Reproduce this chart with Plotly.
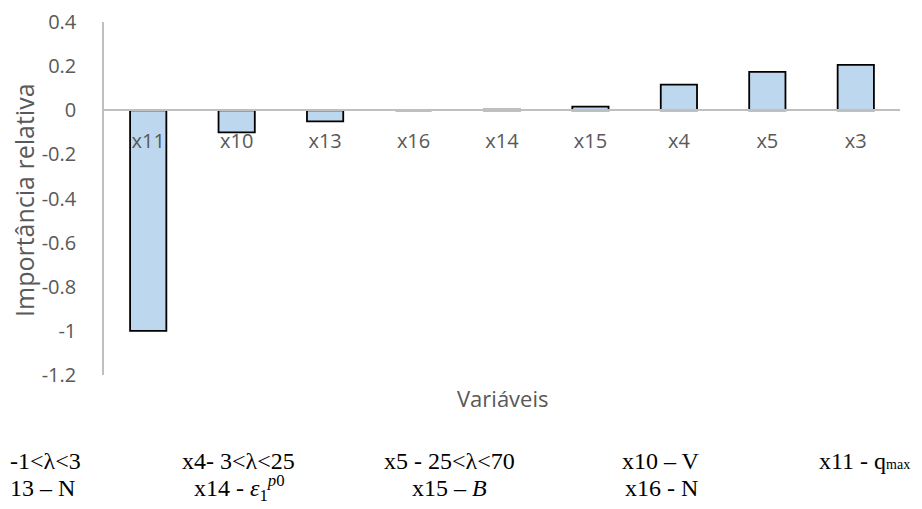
import plotly.graph_objects as go

categories = ["x11", "x10", "x13", "x16", "x14", "x15", "x4", "x5", "x3"]
values = [-1.0, -0.10, -0.05, 0.0, 0.003, 0.016, 0.116, 0.174, 0.206]
y_ticks = [0.4, 0.2, 0, -0.2, -0.4, -0.6, -0.8, -1, -1.2]
y_tick_text = ["0.4", "0.2", "0", "-0.2", "-0.4", "-0.6", "-0.8", "-1", "-1.2"]

legend_row1 = ["-1<λ<3", "x4- 3<λ<25", "x5 - 25<λ<70", "x10 – V",
               "x11 - q<span style='font-size:14px'>max</span>"]
legend_row2 = ["13 – N", "x14 - <i>ε</i><sub>1</sub><sup><i>p</i>0</sup>",
               "x15 – <i>B</i>", "x16 - N"]

GRAY = "#595959"
LINE = "#bfbfbf"
FONT = "Open Sans"

fig = go.Figure()
fig.add_trace(go.Bar(
    x=categories, y=values,
    marker=dict(color="#bdd7ee", line=dict(color="black", width=1.8)),
))

# page body has an 8px margin; lay out in figure pixels = screen pixels - 8
OFF = 8
W, H = 922 - OFF, 509 - OFF
L, R, T, B = 104 - OFF, 922 - 900, 22 - OFF, 509 - 375
pw, ph = W - L - R, H - T - B

def px(xp):
    return (xp - OFF - L) / pw

def py(yp):
    return (H - B - (yp - OFF)) / ph

fig.update_layout(
    width=W, height=H,
    margin=dict(l=L, r=R, t=T, b=B, autoexpand=False),
    plot_bgcolor="white", paper_bgcolor="white",
    bargap=0.59,
    showlegend=False,
    font=dict(family=FONT, color=GRAY, size=20),
    xaxis=dict(
        type="category", automargin=False,
        anchor="free", position=0.75,
        showline=True, linecolor=LINE, linewidth=1.5,
        showgrid=False, ticks="", ticklabelstandoff=13,
        tickfont=dict(family=FONT, size=20, color=GRAY),
        fixedrange=True,
    ),
    yaxis=dict(
        range=[-1.2, 0.4], automargin=False,
        tickvals=y_ticks, ticktext=y_tick_text,
        showline=True, linecolor=LINE, linewidth=1.5,
        showgrid=False, zeroline=False, ticks="",
        ticklabelstandoff=22,
        tickfont=dict(family=FONT, size=20, color=GRAY),
    ),
)

annotations = [
    dict(text="Variáveis", x=px(503), y=py(398), xref="paper", yref="paper",
         xanchor="center", yanchor="middle",
         showarrow=False, font=dict(family=FONT, size=22, color=GRAY)),
    dict(text="Importância relativa", x=px(24), y=py(200), xref="paper", yref="paper",
         xanchor="center", yanchor="middle",
         textangle=-90, showarrow=False, font=dict(family=FONT, size=25, color=GRAY)),
]

serif = dict(family="Liberation Serif", size=24, color="black")
row1_pos = [(8, "left"), (238, "center"), (449, "center"), (661, "center"), (912, "right")]
row2_pos = [(8, "left"), (239, "center"), (449, "center"), (661, "center")]
for txt, (xp, anc) in zip(legend_row1, row1_pos):
    annotations.append(dict(text=txt, x=px(xp), y=py(461), xref="paper", yref="paper",
                            xanchor=anc, yanchor="middle", showarrow=False, font=serif))
for txt, (xp, anc) in zip(legend_row2, row2_pos):
    annotations.append(dict(text=txt, x=px(xp), y=py(488), xref="paper", yref="paper",
                            xanchor=anc, yanchor="middle", showarrow=False, font=serif))
fig.update_layout(annotations=annotations)

fig.write_html("out.html")
